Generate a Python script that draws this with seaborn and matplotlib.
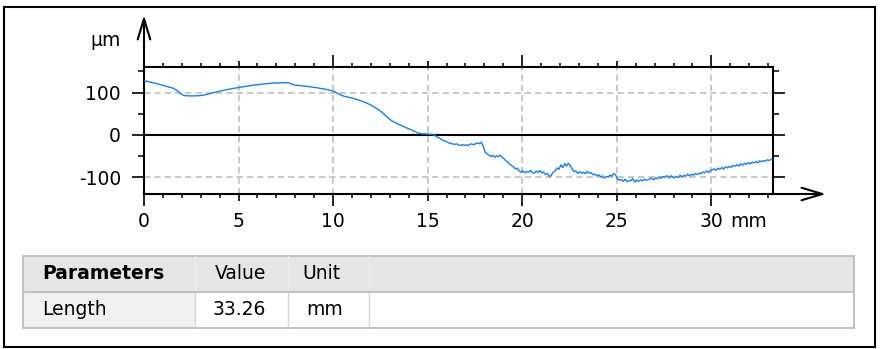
import numpy as np
import pandas as pd
import matplotlib
matplotlib.use("Agg")
import matplotlib.pyplot as plt
from matplotlib.patches import Rectangle, FancyArrowPatch, ArrowStyle
from matplotlib.lines import Line2D
import seaborn as sns

# Surface profile height in µm, sampled every ~0.1 mm along the trace
profile_um = [
    128.5, 127.5, 126.4, 125.3, 124.2, 123.1, 122.0, 120.8, 119.6, 118.3,
    117.0, 115.8, 114.6, 113.4, 112.2, 111.0, 109.0, 106.0, 103.0, 99.0,
    95.5, 93.5, 92.8, 92.5, 92.3, 92.2, 92.2, 92.3, 92.5, 92.8,
    93.2, 93.8, 94.6, 95.5, 96.6, 97.8, 99.0, 100.3, 101.5, 102.5,
    103.5, 104.5, 105.5, 106.4, 107.3, 108.2, 109.0, 109.8, 110.6, 111.3,
    112.0, 112.8, 113.6, 114.4, 115.1, 115.8, 116.5, 117.1, 117.7, 118.3,
    118.9, 119.4, 119.9, 120.4, 120.8, 121.2, 121.6, 122.0, 122.3, 122.6,
    122.8, 123.0, 123.2, 123.3, 123.4, 123.5, 123.3, 122.0, 120.0, 118.5,
    117.5, 117.0, 116.6, 116.2, 115.8, 115.3, 114.8, 114.2, 113.6, 113.0,
    112.3, 111.6, 110.9, 110.2, 109.5, 108.7, 107.8, 106.8, 105.8, 104.6,
    103.2, 101.2, 98.8, 96.3, 94.0, 92.3, 91.0, 90.0, 89.0, 88.0,
    87.0, 85.8, 84.5, 83.0, 81.5, 80.0, 78.2, 76.3, 74.3, 72.2,
    70.0, 67.5, 64.8, 61.9, 58.8, 55.4, 51.8, 48.0, 43.6, 39.6,
    36.0, 33.0, 30.4, 28.0, 25.8, 23.8, 21.8, 19.8, 17.9, 16.0,
    14.0, 12.2, 10.1, 8.4, 5.6, 3.6, 3.8, 2.2, 2.9, 1.8,
    2.5, 1.2, 1.9, -0.6, -2.4, -5.8, -7.5, -10.6, -13.2, -14.5,
    -16.8, -19.0, -19.8, -21.5, -22.3, -21.0, -23.8, -24.5, -22.6, -25.0,
    -23.2, -24.8, -22.4, -21.0, -23.5, -20.6, -18.5, -20.8, -17.2, -26.0,
    -40.0, -44.5, -47.2, -51.0, -48.0, -52.5, -49.5, -51.5, -47.8, -53.0,
    -56.0, -61.5, -63.0, -69.0, -72.5, -75.0, -80.0, -78.5, -85.0, -88.0,
    -85.0, -89.5, -86.5, -88.0, -83.5, -89.0, -90.5, -85.0, -88.5, -84.0,
    -90.0, -87.5, -94.0, -91.0, -98.5, -95.0, -88.0, -85.5, -78.0, -81.5,
    -70.5, -77.0, -68.0, -73.5, -67.0, -72.0, -80.5, -87.0, -85.0, -90.5,
    -87.0, -90.0, -88.5, -91.5, -86.0, -90.5, -89.0, -94.0, -92.5, -97.0,
    -94.0, -99.0, -96.5, -102.0, -98.0, -99.5, -95.0, -97.0, -91.0, -95.5,
    -104.5, -107.0, -105.0, -109.5, -104.5, -110.5, -107.5, -108.0, -103.5, -111.0,
    -106.5, -110.0, -106.0, -108.5, -104.5, -107.0, -105.5, -104.0, -102.5, -106.0,
    -101.0, -103.5, -99.5, -102.0, -98.0, -100.0, -96.0, -101.5, -96.5, -99.0,
    -101.5, -98.0, -100.5, -95.0, -99.0, -95.5, -97.5, -92.5, -97.0, -93.0,
    -95.0, -91.0, -93.5, -90.0, -92.0, -87.5, -89.5, -85.0, -88.5, -83.5,
    -82.5, -80.0, -83.5, -78.5, -81.0, -77.0, -80.5, -75.0, -78.0, -74.5,
    -76.5, -72.0, -74.0, -70.5, -73.5, -68.0, -71.5, -67.5, -69.0, -65.0,
    -68.5, -64.5, -66.0, -62.5, -65.5, -61.0, -63.5, -60.5, -62.0, -58.5,
    -60.5, -57.5, -58.5,
]
length_mm = 33.26

x_ticks = [0, 5, 10, 15, 20, 25, 30]
x_tick_labels = ["0", "5", "10", "15", "20", "25", "30"]
y_ticks = [-100, 0, 100]
y_tick_labels = ["-100", "0", "100"]
y_minor_ticks = [-50, 50, 150]

table_header = ["Parameters", "Value", "Unit"]
table_row = ["Length", f"{length_mm:.2f}", "mm"]

sns.set_style("white")
plt.rcParams["font.family"] = ["DejaVu Sans"]
FS = 13.5

W, H = 882, 349
fig = plt.figure(figsize=(W / 100, H / 100), dpi=100)
fig.patch.set_facecolor("white")


def fx(px):
    return px / W


def fy(py):
    return 1 - py / H


ax = fig.add_axes([fx(144), fy(194), fx(773) - fx(144), fy(67) - fy(194)])
df = pd.DataFrame({"x": np.linspace(0, length_mm, len(profile_um)), "height": profile_um})
sns.lineplot(data=df, x="x", y="height", ax=ax, color="#1480f0", linewidth=1.0, zorder=3)
ax.set_xlim(0, length_mm)
ax.set_ylim(-139.5, 160.5)
ax.set_xlabel("")
ax.set_ylabel("")
ax.set_facecolor("white")

for side in ["left", "right", "top", "bottom"]:
    ax.spines[side].set_visible(True)
    ax.spines[side].set_color("black")
    ax.spines[side].set_linewidth(1.5)

ax.set_xticks(x_ticks, x_tick_labels)
ax.set_xticks(np.arange(0, 34), minor=True)
ax.set_yticks(y_ticks, y_tick_labels)
ax.set_yticks(y_minor_ticks, minor=True)

ax.tick_params(axis="x", which="major", direction="out", length=8.6, width=1.2,
               pad=4.5, top=True, bottom=True, labelsize=FS, color="black",
               labelcolor="black")
ax.tick_params(axis="x", which="minor", direction="out", length=3.0, width=1.1,
               top=True, bottom=True, color="black")
ax.tick_params(axis="y", which="major", direction="out", length=8.6, width=1.2,
               pad=8, left=True, right=True, labelsize=FS, color="black",
               labelcolor="black")
ax.tick_params(axis="y", which="minor", direction="out", length=4.5, width=1.1,
               left=True, right=True, color="black")

ax.grid(True, which="major", color="#c4c4c4", linestyle=(0, (3.5, 2.2)), linewidth=1.3)
ax.set_axisbelow(True)
ax.axhline(0, color="black", linewidth=1.5, zorder=2.5)

# Half-decade ticks are shorter than the decade ticks
for loc, tick in zip(x_ticks, ax.xaxis.get_major_ticks()):
    if loc % 10 == 5:
        tick.tick1line.set_markersize(5.0)
        tick.tick2line.set_markersize(4.3)

ax.annotate("mm", xy=(31.0, 0), xycoords=("data", "axes fraction"),
            xytext=(0, -(8.6 + 4.5)), textcoords="offset points",
            ha="left", va="top", fontsize=FS, color="black")

fig.text(fx(121), fy(40), "µm", ha="right", va="center", fontsize=FS, color="black")

# Axis arrows
head = ArrowStyle("->", head_length=15, head_width=4.5)
for (x0, y0), (x1, y1) in [((144, 68), (144, 15)), ((772, 194), (826, 194))]:
    fig.add_artist(FancyArrowPatch((fx(x0), fy(y0)), (fx(x1), fy(y1)),
                                   transform=fig.transFigure, arrowstyle=head,
                                   mutation_scale=1, lw=1.5, color="black",
                                   shrinkA=0, shrinkB=0))

# Outer frame
fig.add_artist(Rectangle((fx(3.5), fy(347)), fx(875) - fx(3.5), fy(7) - fy(347),
                         transform=fig.transFigure, fill=False, lw=1.5,
                         edgecolor="black"))

# Parameter table
tx0, tx1 = 23, 854
ty0, ty1, ty2 = 256, 292, 328
col_edges = [195, 288, 369]
fig.add_artist(Rectangle((fx(tx0), fy(ty1)), fx(tx1) - fx(tx0), fy(ty0) - fy(ty1),
                         transform=fig.transFigure, facecolor="#e6e6e6",
                         edgecolor="none"))
fig.add_artist(Rectangle((fx(tx0), fy(ty2)), fx(col_edges[0]) - fx(tx0), fy(ty1) - fy(ty2),
                         transform=fig.transFigure, facecolor="#f1f1f1",
                         edgecolor="none"))
for cx in col_edges:
    fig.add_artist(Line2D([fx(cx), fx(cx)], [fy(ty0), fy(ty1)], transform=fig.transFigure,
                          color="#ececec", lw=1.0))
    fig.add_artist(Line2D([fx(cx), fx(cx)], [fy(ty1), fy(ty2)], transform=fig.transFigure,
                          color="#d6d6d6", lw=1.0))
fig.add_artist(Line2D([fx(tx0), fx(tx1)], [fy(ty1), fy(ty1)], transform=fig.transFigure,
                      color="#c2c2c2", lw=1.5))
fig.add_artist(Rectangle((fx(tx0), fy(ty2)), fx(tx1) - fx(tx0), fy(ty0) - fy(ty2),
                         transform=fig.transFigure, fill=False, edgecolor="#c2c2c2",
                         lw=1.5))

header_x = [42, 215, 302]
row_x = [42, 213, 306]
for i, (label, px) in enumerate(zip(table_header, header_x)):
    fig.text(fx(px), fy(273.5), label, ha="left", va="center", fontsize=FS,
             fontweight="bold" if i == 0 else "normal", color="black")
for label, px in zip(table_row, row_x):
    fig.text(fx(px), fy(309.5), label, ha="left", va="center", fontsize=FS, color="black")

fig.savefig("out.png", dpi=100, facecolor="white")
